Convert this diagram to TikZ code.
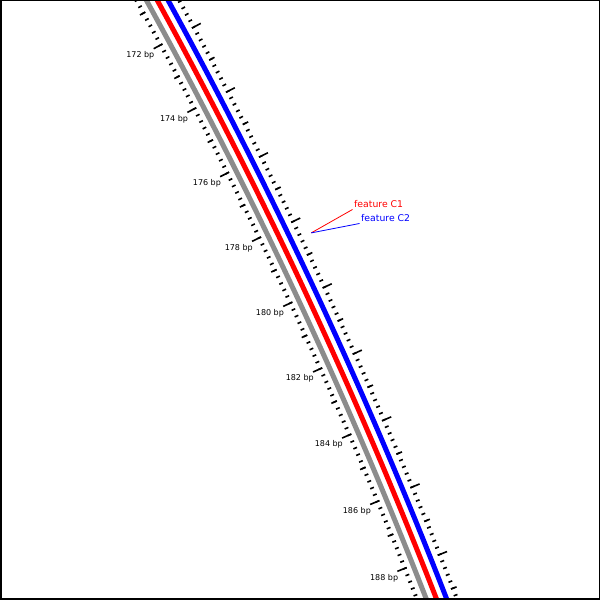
\documentclass[tikz,border=0pt]{standalone}
\usepackage{fontspec}
\setmainfont{DejaVu Sans}
\begin{document}
\begin{tikzpicture}[x=1pt,y=1pt,
    track/.style={line width=5pt},
    tickmark/.style={line width=1.6pt},
    bplabel/.style={anchor=north east,inner sep=0pt,yshift=-3pt,font=\fontsize{8}{9}\selectfont},
    featlabel/.style={anchor=south west,inner sep=1.5pt,font=\fontsize{9.3}{11}\selectfont}]
  \useasboundingbox (0,0) rectangle (600,600);
  \begin{scope}
    \clip (0,0) rectangle (600,600);
    \begin{scope}[shift={(-4256,-1823)}]
      % --- tracks: backbone, C1, C2 ---
      \draw[track,black!45] (30:5025) arc[start angle=30,end angle=20,radius=5025pt];
      \draw[track,red] (30:5034.5) arc[start angle=30,end angle=20,radius=5034.5pt];
      \draw[track,blue] (30:5044) arc[start angle=30,end angle=20,radius=5044pt];
      % --- inner ruler (0.2 bp, 1 bp, 2 bp) ---
      \foreach \i in {850,...,950}{\draw[tickmark] ({28.3-0.0825*(\i-860)}:5014.5) -- ({28.3-0.0825*(\i-860)}:5018.5);}
      \foreach \i in {855,865,...,945}{\draw[tickmark] ({28.3-0.0825*(\i-860)}:5012.5) -- ({28.3-0.0825*(\i-860)}:5018.5);}
      \foreach \i in {850,860,...,950}{\draw[tickmark] ({28.3-0.0825*(\i-860)}:5008.5) -- ({28.3-0.0825*(\i-860)}:5018.5);}
      % --- outer ruler ---
      \foreach \i in {850,...,950}{\draw[tickmark] ({28.3-0.0825*(\i-860)}:5052) -- ({28.3-0.0825*(\i-860)}:5056);}
      \foreach \i in {855,865,...,945}{\draw[tickmark] ({28.3-0.0825*(\i-860)}:5052) -- ({28.3-0.0825*(\i-860)}:5058);}
      \foreach \i in {850,860,...,950}{\draw[tickmark] ({28.3-0.0825*(\i-860)}:5052) -- ({28.3-0.0825*(\i-860)}:5062);}
      % --- labels every 2 bp ---
      \foreach \b in {172,174,...,188}{\node[bplabel] (l\b) at ({28.3-0.4125*(\b-172)}:5009.5) {\b\ bp};}
      \coordinate (fc) at ({28.3-0.4125*6.5}:5065.5);
    \end{scope}
  \end{scope}
  % --- feature labels ---
  \node[featlabel,text=red] (c1) at (352.5,390.5) {feature C1};
  \node[featlabel,text=blue] (c2) at (359.5,376.5) {feature C2};
  \draw[red,line width=0.8pt] (fc) -- (c1.south west);
  \draw[blue,line width=0.8pt] (fc) -- (c2.south west);
  \draw[line width=1.5pt] (0.75,0.75) rectangle (599.25,599.25);
\end{tikzpicture}
\end{document}
